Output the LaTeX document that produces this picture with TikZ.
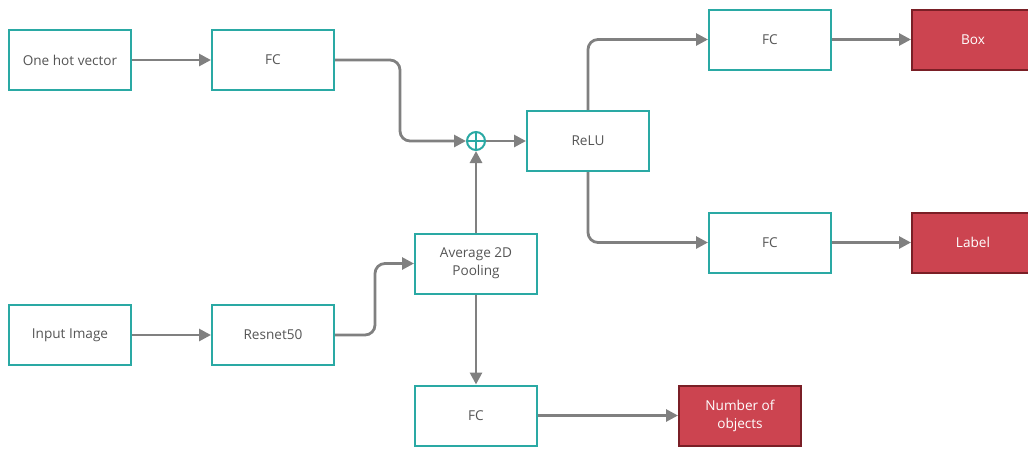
\documentclass[tikz,border=0pt]{standalone}
\usepackage{fontspec}
\setmainfont{Open Sans}
\usetikzlibrary{arrows.meta}
\definecolor{teal1}{HTML}{2AA9A4}
\definecolor{gline}{HTML}{808080}
\definecolor{redf}{HTML}{CC4450}
\definecolor{redd}{HTML}{7A1F26}
\definecolor{txt}{HTML}{555555}
\begin{document}
\begin{tikzpicture}[x=1pt,y=-1pt,
  blk/.style={draw=teal1,line width=2pt,fill=white,minimum width=122pt,minimum height=60pt,inner sep=0pt,align=center,text=txt,font=\fontsize{13.6}{18}\selectfont},
  outb/.style={draw=redd,line width=2pt,fill=redf,minimum width=122pt,minimum height=60pt,inner sep=0pt,align=center,text=white,font=\fontsize{13.6}{18}\selectfont},
  conn/.style={draw=gline,line width=2.8pt,rounded corners=10pt,-{Triangle[length=12pt,width=12pt]}}]
\useasboundingbox (0,0) rectangle (1028,448);
\begin{scope}
\clip (0,0) rectangle (1028,448);
\node[blk] (onehot) at (70,60) {One hot vector};
\node[blk] (fc1) at (273,60) {FC};
\node[blk] (input) at (70,335) {Input Image};
\node[blk] (resnet) at (273,335) {Resnet50};
\node[blk] (avg) at (476,263.5) {Average 2D\\Pooling};
\node[circle,draw=teal1,line width=2pt,minimum size=18pt,inner sep=0pt] (plus) at (476,141) {};
\draw[teal1,line width=2pt] (plus.north) -- (plus.south) (plus.west) -- (plus.east);
\node[blk] (relu) at (588,141) {ReLU};
\node[blk] (fct) at (770,39.5) {FC};
\node[blk] (fcm) at (770,242.5) {FC};
\node[outb] (box) at (973,39.5) {Box};
\node[outb] (label) at (973,242.5) {Label};
\node[blk] (fcb) at (476,415.5) {FC};
\node[outb] (num) at (740,415.5) {Number of\\objects};
\coordinate (c1) at (400,60);
\coordinate (c2) at (375,335);
\draw[conn] (onehot) -- (fc1);
\draw[conn] (fc1.east) -- (c1) -- (c1 |- plus) -- (plus.west);
\draw[conn] (input) -- (resnet);
\draw[conn] (resnet.east) -- (c2) -- (c2 |- avg) -- (avg.west);
\draw[conn] (avg.north) -- (plus.south);
\draw[conn] (plus.east) -- (relu.west);
\draw[conn] (relu.north) -- (relu.north |- fct) -- (fct.west);
\draw[conn] (relu.south) -- (relu.south |- fcm) -- (fcm.west);
\draw[conn] (fct) -- (box);
\draw[conn] (fcm) -- (label);
\draw[conn] (avg.south) -- (fcb.north);
\draw[conn] (fcb) -- (num);
\end{scope}
\end{tikzpicture}
\end{document}
